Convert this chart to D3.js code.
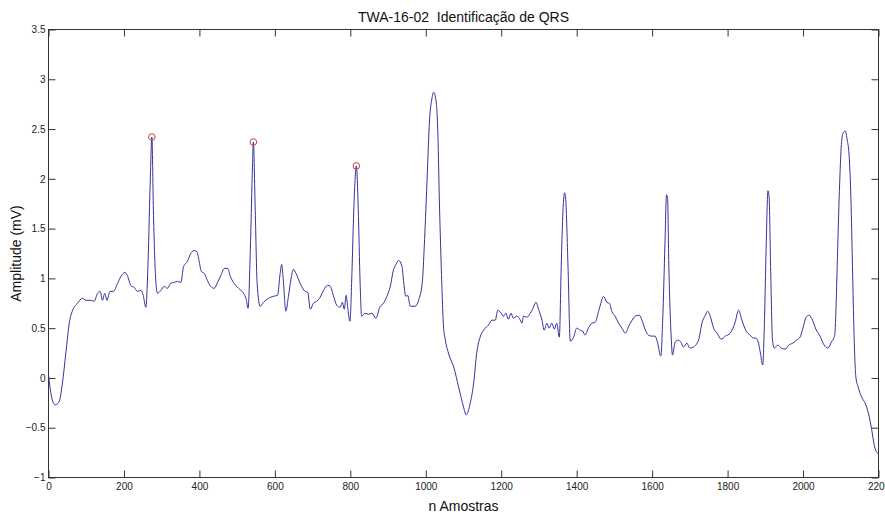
<!DOCTYPE html>
<html>
<head>
<meta charset="utf-8">
<script src="https://cdn.jsdelivr.net/npm/d3@7"></script>
<style>
  body { margin: 0; background: #fff; }
  svg { display: block; font-family: "Liberation Sans", Arial, sans-serif; }
</style>
</head>
<body>
<script>
// samples (index) and amplitude in mV
var sampleIdx = [0, 5, 10, 18, 28, 37, 46, 55, 64, 77, 90, 99, 112, 121, 130, 137, 143, 149, 155, 163,
  172, 183, 192, 203, 209, 218, 227, 236, 245, 251, 258, 264, 270, 274, 278, 284, 289, 298, 307, 315,
  324, 333, 342, 351, 358, 368, 377, 385, 393, 399, 405, 413, 421, 430, 439, 448, 457, 466, 475, 482,
  490, 504, 517, 524, 529, 535, 540, 543, 548, 553, 561, 570, 583, 596, 607, 614, 618, 623, 629, 636,
  643, 649, 656, 667, 680, 687, 694, 702, 711, 720, 729, 740, 747, 755, 764, 773, 779, 784, 789, 793,
  799, 804, 808, 812, 816, 821, 826, 830, 839, 848, 857, 868, 878, 888, 897, 906, 914, 921, 928, 937,
  941, 947, 952, 959, 972, 981, 991, 996, 1003, 1010, 1016, 1021, 1027, 1032, 1036, 1041, 1047, 1051, 1060, 1074,
  1087, 1100, 1107, 1118, 1127, 1135, 1144, 1153, 1166, 1175, 1184, 1191, 1200, 1206, 1212, 1219, 1226, 1232, 1241, 1248,
  1255, 1259, 1268, 1277, 1283, 1292, 1299, 1308, 1314, 1321, 1327, 1334, 1341, 1347, 1354, 1359, 1363, 1368, 1371, 1377,
  1383, 1392, 1400, 1409, 1416, 1422, 1431, 1440, 1449, 1458, 1464, 1471, 1480, 1487, 1493, 1502, 1511, 1520, 1529, 1538,
  1547, 1555, 1566, 1573, 1582, 1590, 1599, 1608, 1614, 1623, 1628, 1634, 1638, 1641, 1644, 1650, 1654, 1661, 1670, 1676,
  1683, 1692, 1700, 1709, 1723, 1732, 1741, 1747, 1754, 1763, 1772, 1783, 1794, 1807, 1820, 1829, 1838, 1848, 1860, 1869,
  1875, 1882, 1887, 1893, 1898, 1902, 1907, 1910, 1914, 1919, 1924, 1933, 1942, 1953, 1962, 1973, 1983, 1992, 2001, 2008,
  2016, 2025, 2034, 2045, 2056, 2066, 2075, 2084, 2088, 2092, 2097, 2101, 2106, 2112, 2117, 2122, 2127, 2131, 2135, 2140,
  2146, 2155, 2164, 2173, 2182, 2189, 2196, 2199];

var amplitude = [0.03, -0.12, -0.22, -0.27, -0.24, -0.05, 0.25, 0.55, 0.68, 0.75, 0.80, 0.78, 0.78, 0.77, 0.85, 0.87, 0.78, 0.85, 0.78, 0.87,
  0.87, 0.95, 1.02, 1.06, 1.03, 0.93, 0.91, 0.87, 0.88, 0.83, 0.71, 1.18, 2.02, 2.42, 1.69, 1.00, 0.85, 0.88, 0.92, 0.90,
  0.95, 0.96, 0.97, 0.96, 1.12, 1.17, 1.25, 1.28, 1.27, 1.18, 1.07, 1.05, 0.98, 0.92, 0.90, 0.96, 1.03, 1.10, 1.10, 1.02,
  0.96, 0.90, 0.85, 0.79, 0.70, 1.29, 2.03, 2.37, 1.68, 0.95, 0.72, 0.76, 0.80, 0.82, 0.83, 1.05, 1.14, 0.95, 0.67, 0.82,
  1.00, 1.09, 1.05, 0.95, 0.87, 0.86, 0.69, 0.75, 0.77, 0.81, 0.88, 0.93, 0.92, 0.83, 0.73, 0.71, 0.76, 0.69, 0.83, 0.71,
  0.57, 1.02, 1.55, 1.95, 2.13, 1.70, 0.95, 0.62, 0.65, 0.64, 0.65, 0.60, 0.71, 0.75, 0.82, 0.92, 1.08, 1.14, 1.18, 1.12,
  0.98, 0.82, 0.83, 0.72, 0.72, 0.78, 0.97, 1.32, 1.95, 2.59, 2.80, 2.87, 2.79, 2.46, 1.79, 1.12, 0.52, 0.40, 0.25, 0.11,
  -0.09, -0.29, -0.37, -0.25, -0.05, 0.25, 0.41, 0.48, 0.53, 0.58, 0.58, 0.68, 0.65, 0.62, 0.65, 0.59, 0.65, 0.60, 0.62, 0.60,
  0.55, 0.62, 0.61, 0.65, 0.69, 0.76, 0.69, 0.58, 0.48, 0.55, 0.50, 0.55, 0.49, 0.55, 0.41, 1.12, 1.62, 1.86, 1.79, 1.12,
  0.37, 0.41, 0.50, 0.48, 0.47, 0.43, 0.50, 0.55, 0.56, 0.67, 0.75, 0.82, 0.76, 0.75, 0.67, 0.62, 0.55, 0.50, 0.45, 0.52,
  0.58, 0.62, 0.63, 0.58, 0.48, 0.43, 0.42, 0.42, 0.36, 0.22, 0.58, 1.35, 1.84, 1.80, 1.18, 0.45, 0.23, 0.36, 0.38, 0.36,
  0.31, 0.35, 0.30, 0.31, 0.38, 0.55, 0.63, 0.67, 0.62, 0.50, 0.45, 0.39, 0.42, 0.45, 0.56, 0.68, 0.58, 0.48, 0.43, 0.40,
  0.40, 0.35, 0.25, 0.13, 0.61, 1.28, 1.88, 1.82, 1.12, 0.38, 0.30, 0.33, 0.30, 0.29, 0.33, 0.35, 0.38, 0.41, 0.52, 0.61,
  0.63, 0.58, 0.49, 0.42, 0.33, 0.30, 0.36, 0.43, 0.78, 1.33, 1.95, 2.31, 2.46, 2.48, 2.39, 2.24, 1.79, 1.12, 0.46, 0.01,
  -0.09, -0.19, -0.25, -0.35, -0.52, -0.68, -0.75, -0.76];

// detected QRS peaks (red circles)
var qrsIdx = [274, 543, 816];
var qrsAmp = [2.42, 2.37, 2.13];

var xTicks = [0, 200, 400, 600, 800, 1000, 1200, 1400, 1600, 1800, 2000, 2200];
var yTicks = [-1, -0.5, 0, 0.5, 1, 1.5, 2, 2.5, 3, 3.5];

var width = 885, height = 516;
var margin = {top: 29.5, right: 6.5, bottom: 38.5, left: 48.5};

var svg = d3.select("body").append("svg")
    .attr("width", width)
    .attr("height", height);

var x = d3.scaleLinear().domain([0, 2200]).range([margin.left, width - margin.right]);
var y = d3.scaleLinear().domain([-1, 3.5]).range([height - margin.bottom, margin.top]);

var ticksColor = "#333";

// box
svg.append("rect")
    .attr("x", x(0)).attr("y", y(3.5))
    .attr("width", x(2200) - x(0)).attr("height", y(-1) - y(3.5))
    .attr("fill", "none").attr("stroke", ticksColor).attr("stroke-width", 1);

function styleAxis(g, showLabels) {
    g.select(".domain").remove();
    g.selectAll(".tick line").attr("stroke", ticksColor);
    g.selectAll(".tick text")
        .attr("fill", "#222")
        .style("font-size", "10px")
        .style("display", showLabels ? null : "none");
}

svg.append("g")
    .attr("transform", "translate(0," + y(-1) + ")")
    .call(d3.axisBottom(x).tickValues(xTicks).tickFormat(d3.format("d"))
        .tickSizeInner(-7).tickSizeOuter(0).tickPadding(5))
    .call(styleAxis, true);

svg.append("g")
    .attr("transform", "translate(0," + y(3.5) + ")")
    .call(d3.axisTop(x).tickValues(xTicks).tickSizeInner(-7).tickSizeOuter(0))
    .call(styleAxis, false);

svg.append("g")
    .attr("transform", "translate(" + x(0) + ",0)")
    .call(d3.axisLeft(y).tickValues(yTicks).tickFormat(d3.format("~g"))
        .tickSizeInner(-7).tickSizeOuter(0).tickPadding(3))
    .call(styleAxis, true);

svg.append("g")
    .attr("transform", "translate(" + x(2200) + ",0)")
    .call(d3.axisRight(y).tickValues(yTicks).tickSizeInner(-7).tickSizeOuter(0))
    .call(styleAxis, false);

// signal
var points = sampleIdx.map(function (d, i) { return [d, amplitude[i]]; });
var line = d3.line()
    .curve(d3.curveMonotoneX)
    .x(function (d) { return x(d[0]); })
    .y(function (d) { return y(d[1]); });

svg.append("path")
    .datum(points)
    .attr("d", line)
    .attr("fill", "none")
    .attr("stroke", "#33339c")
    .attr("stroke-width", 1)
    .attr("stroke-linejoin", "round");

// QRS markers
svg.selectAll("circle.qrs")
    .data(qrsIdx)
    .enter().append("circle")
    .attr("class", "qrs")
    .attr("cx", function (d) { return x(d); })
    .attr("cy", function (d, i) { return y(qrsAmp[i]); })
    .attr("r", 3.3)
    .attr("fill", "none")
    .attr("stroke", "#d23c3c")
    .attr("stroke-width", 1);

// title and labels
svg.append("text")
    .attr("x", (x(0) + x(2200)) / 2)
    .attr("y", 21.5)
    .attr("text-anchor", "middle")
    .style("font-size", "14px")
    .style("white-space", "pre")
    .attr("fill", "#111")
    .text("TWA-16-02  Identificação de QRS");

svg.append("text")
    .attr("x", (x(0) + x(2200)) / 2)
    .attr("y", 511)
    .attr("text-anchor", "middle")
    .style("font-size", "14px")
    .attr("fill", "#111")
    .text("n Amostras");

svg.append("text")
    .attr("transform", "translate(21," + ((y(-1) + y(3.5)) / 2) + ") rotate(-90)")
    .attr("text-anchor", "middle")
    .style("font-size", "14px")
    .attr("fill", "#111")
    .text("Amplitude (mV)");
</script>
</body>
</html>
